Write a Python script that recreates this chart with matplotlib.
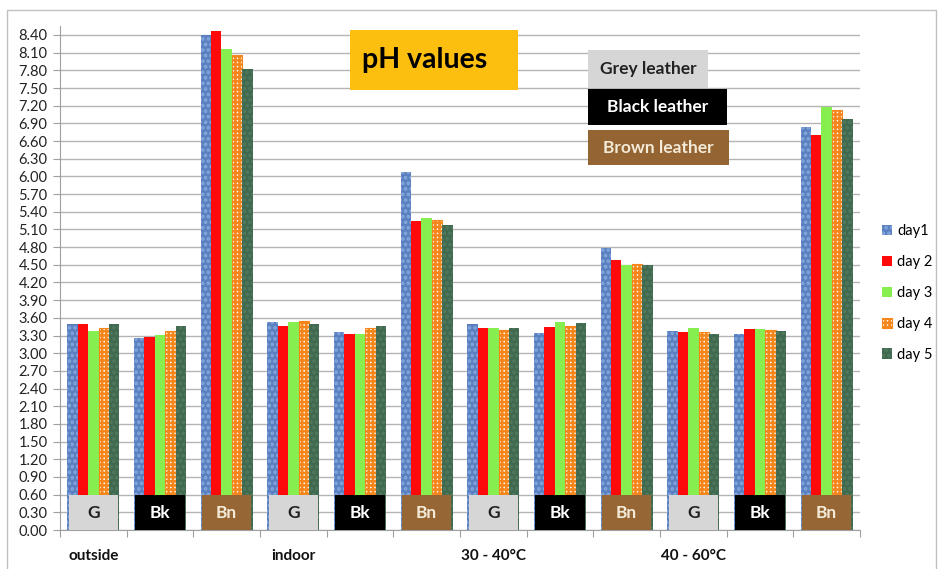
import numpy as np
import matplotlib
matplotlib.use('Agg')
from matplotlib import pyplot as plt
from matplotlib.patches import Rectangle

plt.rcParams['font.family'] = ['Lato', 'DejaVu Sans']
plt.rcParams['hatch.linewidth'] = 1.8

# leather sample per group and treatment rows
samples = ['G', 'Bk', 'Bn'] * 4
treatments = ['outside', 'indoor', '30 - 40°C', '40 - 60°C']
days = ['day1', 'day 2', 'day 3', 'day 4', 'day 5']

day1 = [3.50, 3.26, 8.40, 3.53, 3.36, 6.07, 3.50, 3.35, 4.79, 3.38, 3.33, 6.84]
day2 = [3.49, 3.28, 8.46, 3.46, 3.32, 5.24, 3.43, 3.44, 4.58, 3.36, 3.41, 6.70]
day3 = [3.37, 3.31, 8.17, 3.53, 3.33, 5.30, 3.43, 3.53, 4.49, 3.43, 3.41, 7.18]
day4 = [3.43, 3.37, 8.06, 3.54, 3.42, 5.26, 3.39, 3.46, 4.52, 3.36, 3.39, 7.12]
day5 = [3.49, 3.47, 7.83, 3.49, 3.47, 5.18, 3.42, 3.51, 4.49, 3.33, 3.37, 6.97]
series = [day1, day2, day3, day4, day5]

yticks = np.round(np.arange(0, 8.41, 0.3), 2)

# bar styles: face, hatch, hatch colour
styles = [
    ('#5a80c2', '...', '#86a8da'),
    ('#ff0a0a', None, '#ff0a0a'),
    ('#86ee4e', None, '#86ee4e'),
    ('#fff4e8', '++++', '#f5861c'),
    ('#3f6a4f', '...', '#52795f'),
]
box_colors = {'G': ('#d6d6d6', '#222222'), 'Bk': ('#000000', '#ffffff'), 'Bn': ('#966634', '#f4ead8')}

fig = plt.figure(figsize=(9.39, 5.69), dpi=100)
ax = fig.add_axes([60/939, 39/569, 800/939, 8.55*58.93/569])

x = np.arange(len(samples)) + 0.5
w = 0.156
for i, (vals, (fc, hatch, hc)) in enumerate(zip(series, styles)):
    ax.bar(x + (i - 2) * w, vals, w, color=fc, hatch=hatch, edgecolor=hc,
           linewidth=0.8 if i == 3 else 0, label=days[i], zorder=2)

# sample label boxes at bottom of each group
for xi, s in zip(x, samples):
    fc, tc = box_colors[s]
    ax.add_patch(Rectangle((xi - 0.37, 0), 0.74, 0.6, facecolor=fc, edgecolor='none', zorder=3))
    ax.text(xi, 0.28, s, ha='center', va='center', fontsize=12.5, fontweight='bold', color=tc, zorder=4)

# treatment names under first group of each triple
for k, t in enumerate(treatments):
    ax.text(x[k * 3], -0.052, t, transform=ax.get_xaxis_transform(), ha='center', va='center',
            fontsize=11, fontweight='bold', color='#111111')

ax.set_xlim(0, 12)
ax.set_ylim(0, 8.55)
ax.set_yticks(yticks)
ax.set_yticklabels(['%.2f' % v for v in yticks], fontsize=10.5, color='#222222')
ax.set_xticks(np.arange(0, 13))
ax.set_xticklabels([])
ax.tick_params(axis='x', length=5, color='#a0a0a0')
ax.tick_params(axis='y', length=5, color='#a0a0a0', pad=4)
ax.grid(axis='y', color='#b4b4b4', linewidth=1, zorder=0)
ax.set_axisbelow(True)
for sp in ['top', 'right']:
    ax.spines[sp].set_visible(False)
for sp in ['left', 'bottom']:
    ax.spines[sp].set_color('#a0a0a0')

# title and colour key boxes
fig.patches.append(Rectangle((350/939, 1 - 90/569), 168/939, 60/569, transform=fig.transFigure,
                             facecolor='#fdbf0f', edgecolor='none'))
fig.text(425/939, 1 - 60/569, 'pH values', fontsize=20.5, fontweight='bold', ha='center', va='center')

keys = [('Grey leather', 50, 88, 708, '#d6d6d6', '#222222'),
        ('Black leather', 89, 125, 727, '#000000', '#ffffff'),
        ('Brown leather', 130, 165, 729, '#946432', '#f4ead8')]
for label, y0, y1, x1, fc, tc in keys:
    fig.patches.append(Rectangle((588/939, 1 - y1/569), (x1 - 588)/939, (y1 - y0)/569,
                                 transform=fig.transFigure, facecolor=fc, edgecolor='none'))
    fig.text((588 + x1)/2/939, 1 - (y0 + y1)/2/569, label, fontsize=12.5, fontweight='bold',
             color=tc, ha='center', va='center')

ax.legend(loc='center left', bbox_to_anchor=(882/939, 1 - 293/569), bbox_transform=fig.transFigure,
          frameon=False, fontsize=10.5, handlelength=0.7, handleheight=0.7, handletextpad=0.35,
          labelspacing=1.15, borderpad=0, borderaxespad=0)

# outer chart border
fig.patches.append(Rectangle((7/939, -0.05), 929/939, 1 - 10/569 + 0.05, transform=fig.transFigure,
                             facecolor='none', edgecolor='#c0c0c0', linewidth=1))

fig.savefig('out.png', dpi=100)
